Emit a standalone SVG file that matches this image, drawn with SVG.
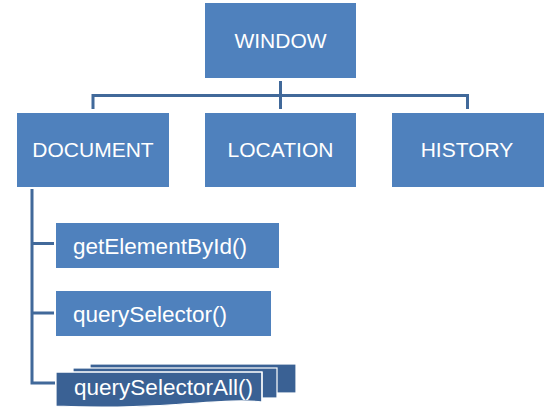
<svg xmlns="http://www.w3.org/2000/svg" width="560" height="420" viewBox="0 0 560 420">
<style>
.box{fill:#4f81bd}
.dark{fill:#3a6194;stroke:#ffffff;stroke-width:1.2}
.lbl{font-family:"Liberation Sans",Arial,sans-serif;font-size:21px;fill:#ffffff}
.sm{font-size:22px}
.c{text-anchor:middle}
.conn{fill:none;stroke:#41699a;stroke-width:3}
</style>
<rect width="560" height="420" fill="#ffffff"/>
<g id="connectors">
<path class="conn" d="M280.5,81 V109 M93,109 V95.5 H467.5 V109"/>
<path class="conn" d="M32,189 V383 H55 M32,243.5 H54 M32,313 H54"/>
</g>
<g id="window"><rect class="box" x="205" y="3" width="151" height="75"/><text class="lbl c" x="280.5" y="48">WINDOW</text></g>
<g id="document"><rect class="box" x="17" y="113" width="152" height="74"/><text class="lbl c" x="93" y="157">DOCUMENT</text></g>
<g id="location"><rect class="box" x="205" y="113" width="151" height="74"/><text class="lbl c" x="280.5" y="157">LOCATION</text></g>
<g id="history"><rect class="box" x="392" y="113" width="152" height="74"/><text class="lbl c" x="467" y="157">HISTORY</text></g>
<g id="getElementById"><rect class="box" x="56" y="223" width="223" height="45"/><text class="lbl sm" x="73" y="254" textLength="174" lengthAdjust="spacingAndGlyphs">getElementById()</text></g>
<g id="querySelector"><rect class="box" x="56" y="291" width="215" height="45"/><text class="lbl sm" x="73" y="322" textLength="154" lengthAdjust="spacingAndGlyphs">querySelector()</text></g>
<g id="querySelectorAll">
<rect class="dark" x="90" y="364" width="206" height="29"/>
<rect class="dark" x="73" y="368" width="204" height="30"/>
<path class="dark" d="M56,372 H262 V402 C222,397 160,411 56,406 Z" stroke="none"/>
<path d="M56,372 H262 V402" fill="none" stroke="#ffffff" stroke-width="1.2"/>
<text class="lbl sm" x="74" y="395" textLength="179" lengthAdjust="spacingAndGlyphs">querySelectorAll()</text>
</g>
</svg>
